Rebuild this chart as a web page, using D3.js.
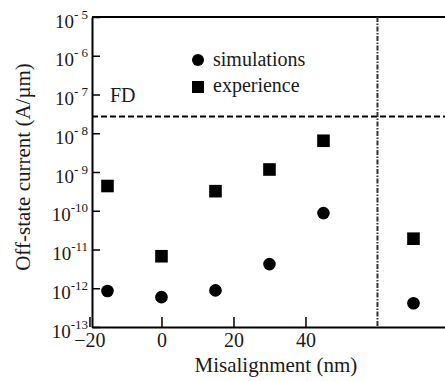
<!DOCTYPE html>
<html>
<head>
<meta charset="utf-8">
<script src="https://cdn.jsdelivr.net/npm/d3@7"></script>
<style>
  body { margin: 0; background: #fff; }
  svg { display: block; }
  svg text { fill: #1a1a1a; font-family: "Liberation Serif", "DejaVu Serif", serif; }
</style>
</head>
<body>
<svg id="chart" width="445" height="381"></svg>
<script>
// misalignment (nm) for each measured device
const misalign = [-15, 0, 15, 30, 45, 70];
// off-state current (A/um)
const simulations = [8.5e-13, 5.9e-13, 8.8e-13, 4.2e-12, 8.7e-11, 4.1e-13];
const experience = [4.35e-10, 6.7e-12, 3.2e-10, 1.16e-9, 6.4e-9, 1.9e-11];
const xTicks = [-20, 0, 20, 40];
const yTickExp = [-13, -12, -11, -10, -9, -8, -7, -6, -5];
const fdLevel = 2.7e-8;   // horizontal dashed "FD" threshold
const breakAt = 60;       // vertical dash-dot separator

const svg = d3.select('#chart');
const margin = { top: 17, right: 0, bottom: 54, left: 92 };
const width = 445, height = 381;

const x = d3.scaleLinear()
  .domain([-19.3, 78.76])
  .range([margin.left, width - margin.right]);

const y = d3.scaleLog()
  .domain([1e-13, 1e-5])
  .range([height - margin.bottom, margin.top]);

// y axis
const yAxis = svg.append('g')
  .attr('transform', `translate(${margin.left},0)`)
  .call(d3.axisLeft(y)
    .tickValues(yTickExp.map(e => Math.pow(10, e)))
    .tickSize(-8)
    .tickSizeOuter(0)
    .tickPadding(4)
    .tickFormat(''));
yAxis.attr('font-family', null);
yAxis.select('.domain').attr('stroke-width', 2);
yAxis.selectAll('.tick line').attr('stroke-width', 1.5);
yAxis.selectAll('.tick text')
  .attr('dy', 10)
  .attr('font-size', 19)
  .attr('text-anchor', 'end')
  .each(function(d) {
    const e = Math.round(Math.log10(d));
    const t = d3.select(this);
    t.append('tspan').text('10');
    t.append('tspan')
      .attr('dy', -9)
      .attr('font-size', 13)
      .style('white-space', 'pre')
      .text(e > -10 ? '- ' + (-e) : '-' + (-e));
  });

// x axis
const xAxis = svg.append('g')
  .attr('transform', `translate(0,${height - margin.bottom})`)
  .call(d3.axisBottom(x)
    .tickValues(xTicks)
    .tickSize(-10)
    .tickSizeOuter(0)
    .tickPadding(6));
xAxis.attr('font-family', null);
xAxis.select('.domain').attr('stroke-width', 2);
xAxis.selectAll('.tick line').attr('stroke-width', 1.5);
xAxis.selectAll('.tick text').attr('font-size', 20);

// top frame line
svg.append('line')
  .attr('x1', x.range()[0]).attr('x2', x.range()[1])
  .attr('y1', y(1e-5)).attr('y2', y(1e-5))
  .attr('stroke', '#000').attr('stroke-width', 2);

// FD threshold
svg.append('line')
  .attr('x1', x.range()[0]).attr('x2', x.range()[1])
  .attr('y1', y(fdLevel)).attr('y2', y(fdLevel))
  .attr('stroke', '#000').attr('stroke-width', 2)
  .attr('stroke-dasharray', '6,3');
svg.append('text')
  .attr('x', margin.left + 18)
  .attr('y', y(fdLevel) - 15)
  .attr('font-size', 20)
  .text('FD');

// separator
svg.append('line')
  .attr('x1', x(breakAt)).attr('x2', x(breakAt))
  .attr('y1', y(1e-5)).attr('y2', y(1e-13))
  .attr('stroke', '#333').attr('stroke-width', 2)
  .attr('stroke-dasharray', '5,1.5,1.5,1.5');

// data
svg.append('g')
  .selectAll('circle')
  .data(misalign.map((m, i) => [m, simulations[i]]))
  .join('circle')
    .attr('cx', d => x(d[0]))
    .attr('cy', d => y(d[1]))
    .attr('r', 6.3)
    .attr('fill', '#000');

svg.append('g')
  .selectAll('rect')
  .data(misalign.map((m, i) => [m, experience[i]]))
  .join('rect')
    .attr('x', d => x(d[0]) - 6.3)
    .attr('y', d => y(d[1]) - 6.3)
    .attr('width', 12.6)
    .attr('height', 12.6)
    .attr('fill', '#000');

// legend
const legend = svg.append('g').attr('transform', 'translate(198,60)');
legend.append('circle').attr('r', 6).attr('fill', '#000');
legend.append('text').attr('x', 15).attr('y', 6).attr('font-size', 20).text('simulations');
legend.append('rect').attr('x', -6).attr('y', 21).attr('width', 12).attr('height', 12).attr('fill', '#000');
legend.append('text').attr('x', 15).attr('y', 32).attr('font-size', 20).text('experience');

// axis titles
svg.append('text')
  .attr('x', (x(-20) + x(78)) / 2 + 10)
  .attr('y', 372)
  .attr('text-anchor', 'middle')
  .attr('font-size', 21)
  .text('Misalignment (nm)');

svg.append('text')
  .attr('transform', 'translate(30,167) rotate(-90)')
  .attr('text-anchor', 'middle')
  .attr('font-size', 21)
  .text('Off-state current (A/\u00b5m)');
</script>
</body>
</html>
